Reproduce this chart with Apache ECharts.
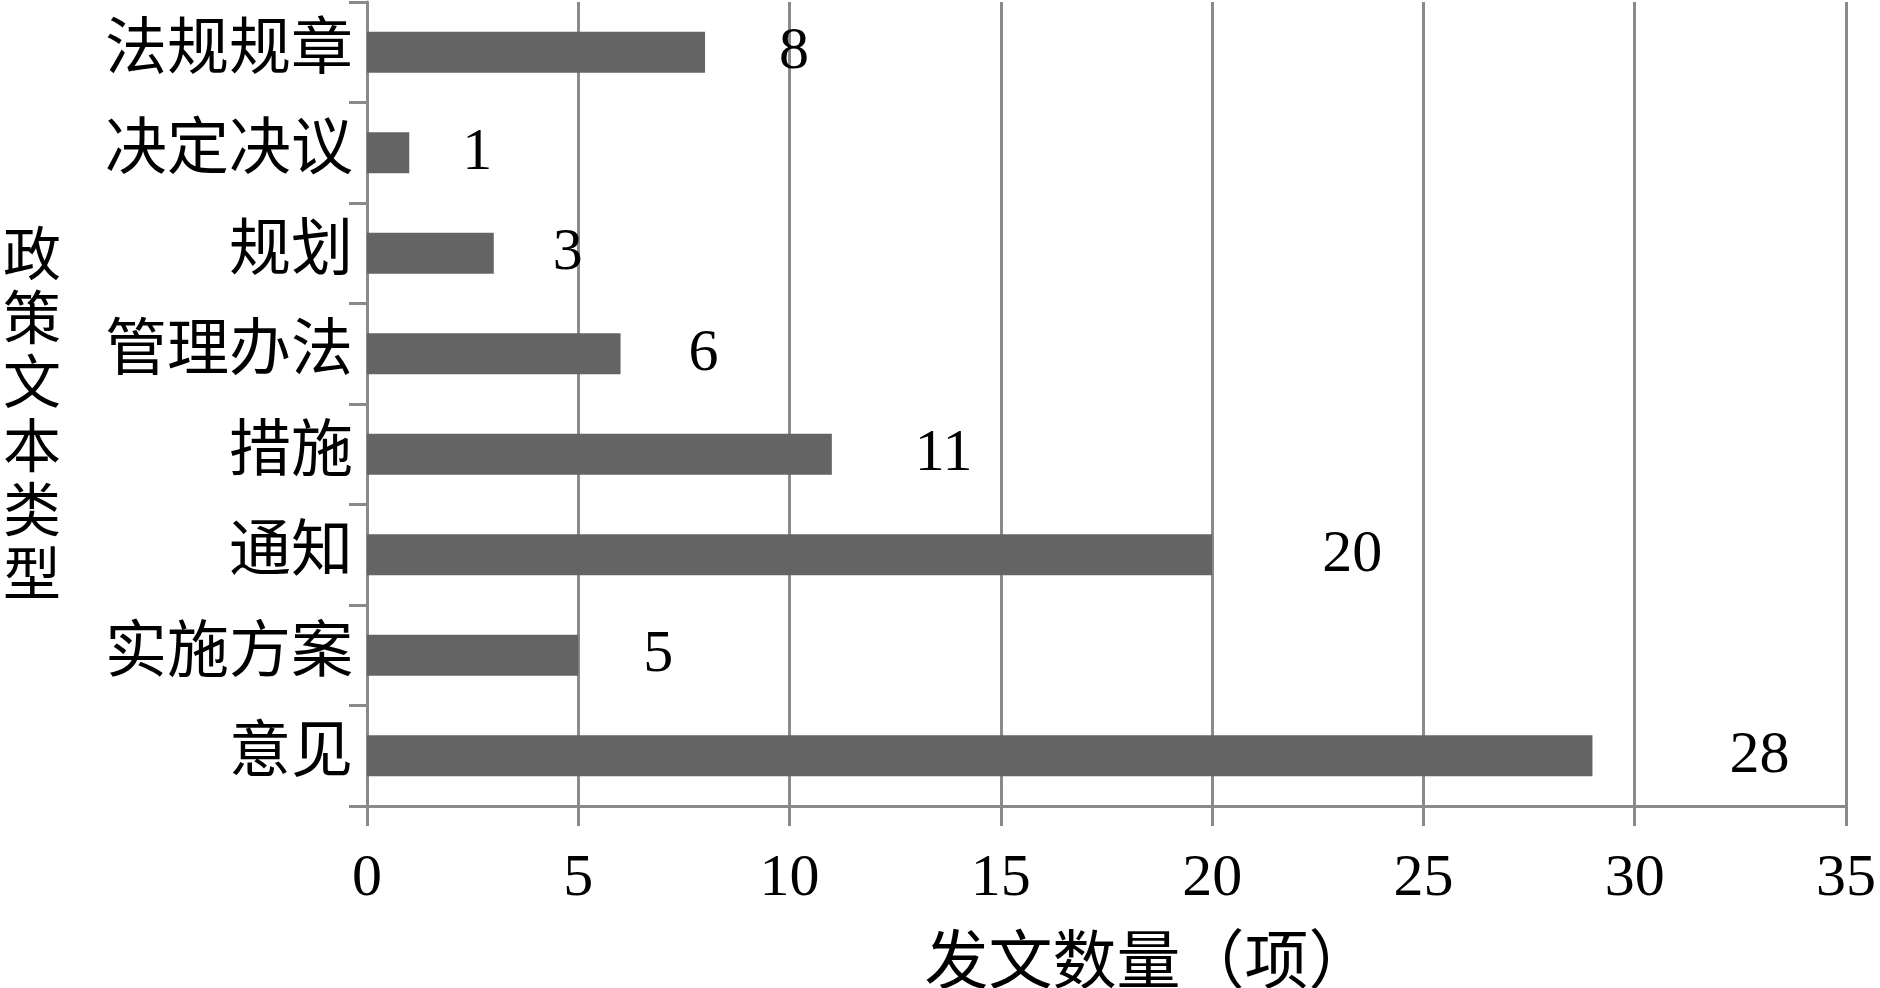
<!DOCTYPE html>
<html>
<head>
<meta charset="utf-8">
<script src="https://cdn.jsdelivr.net/npm/echarts@6/dist/echarts.min.js"></script>
<style>
html,body{margin:0;padding:0;background:#fff;}
#main{width:1880px;height:988px;}
</style>
</head>
<body>
<div id="main"></div>
<script>
const categories = ['法规规章', '决定决议', '规划', '管理办法', '措施', '通知', '实施方案', '意见'];
const values = [8, 1, 3, 6, 11, 20, 5, 29];
const valueLabels = ['8', '1', '3', '6', '11', '20', '5', '28'];
const xTicks = { min: 0, max: 35, interval: 5 };
const xAxisTitle = '发文数量（项）';
const yAxisTitle = '政策文本类型';

const cjk = '"Liberation Serif", "Noto Sans CJK SC", serif';
const gridColor = '#8a8a8a';

const chart = echarts.init(document.getElementById('main'), null, { renderer: 'canvas' });
chart.setOption({
  animation: false,
  backgroundColor: '#ffffff',
  grid: { left: 367, right: 34, top: 2, bottom: 182, containLabel: false, outerBoundsMode: 'none' },
  graphic: [{
    type: 'text',
    left: 3,
    top: 228,
    style: {
      text: yAxisTitle.split('').join('\n'),
      fontFamily: cjk,
      fontSize: 58,
      lineHeight: 64,
      fill: '#000'
    }
  }],
  xAxis: {
    type: 'value',
    min: xTicks.min, max: xTicks.max, interval: xTicks.interval,
    name: xAxisTitle,
    nameLocation: 'middle',
    nameGap: 128,
    nameTextStyle: { fontFamily: cjk, fontSize: 64, color: '#000', padding: [0, 0, 0, 84] },
    axisLine: { show: true, lineStyle: { color: gridColor, width: 3 } },
    axisTick: { show: true, length: 20, lineStyle: { color: gridColor, width: 3 } },
    axisLabel: { fontFamily: cjk, fontSize: 60, color: '#000', margin: 43 },
    splitLine: { show: true, lineStyle: { color: gridColor, width: 3 } }
  },
  yAxis: {
    type: 'category',
    inverse: true,
    data: categories,
    axisLine: { show: true, lineStyle: { color: gridColor, width: 3 } },
    axisTick: { show: true, length: 18, lineStyle: { color: gridColor, width: 3 } },
    axisLabel: { fontFamily: cjk, fontSize: 62, color: '#000', margin: 14 },
    splitLine: { show: false }
  },
  series: [{
    type: 'bar',
    data: values.map(v => ({ value: v, label: { distance: 50 + v * 3 } })),
    barWidth: 41,
    itemStyle: { color: '#646464' },
    label: {
      show: true,
      position: 'right',
      fontFamily: cjk,
      fontSize: 60,
      color: '#000',
      formatter: p => valueLabels[p.dataIndex]
    }
  }]
});
</script>
</body>
</html>
